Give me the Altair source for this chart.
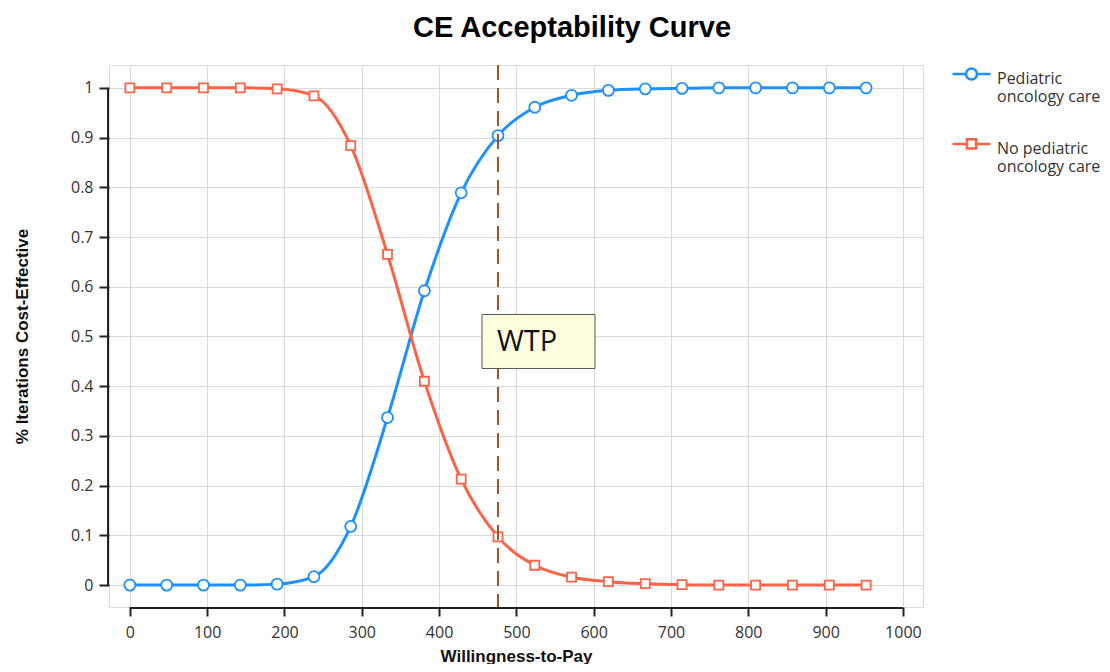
import altair as alt
import pandas as pd

# ---- data ----
wtp_x = [0, 47.6, 95.2, 142.9, 190.5, 238.1, 285.7, 333.3, 381.0, 428.6, 476.2,
         523.8, 571.4, 619.0, 666.7, 714.3, 761.9, 809.5, 857.1, 904.8, 952.4]
pediatric = [0.000, 0.000, 0.000, 0.000, 0.002, 0.017, 0.118, 0.337, 0.592, 0.789, 0.904,
             0.961, 0.985, 0.995, 0.998, 0.999, 1.000, 1.000, 1.000, 1.000, 1.000]
no_pediatric = [1.000, 1.000, 1.000, 1.000, 0.998, 0.984, 0.884, 0.665, 0.410, 0.213, 0.097,
                0.040, 0.016, 0.007, 0.003, 0.001, 0.000, 0.000, 0.000, 0.000, 0.000]
series_names = ["Pediatric oncology care", "No pediatric oncology care"]
series_colors = ["#1E90FF", "#FF6347"]
wtp_threshold = [476.2]
wtp_label = ["WTP"]
wtp_label_y = [0.49]
x_ticks = list(range(0, 1001, 100))
y_ticks = [0, 0.1, 0.2, 0.3, 0.4, 0.5, 0.6, 0.7, 0.8, 0.9, 1.0]
x_axis_span = [0, 1000]
y_axis_span = [0, 1]
x_domain = [-27, 1026]
y_domain = [-0.044, 1.046]

W, H = 814, 542
LABEL_FONT = "Open Sans"
TITLE_FONT = "Liberation Sans"

df = pd.DataFrame({
    "wtp": wtp_x * 2,
    "value": pediatric + no_pediatric,
    "series": [series_names[0]] * len(wtp_x) + [series_names[1]] * len(wtp_x),
})

x_enc = alt.X("wtp:Q", scale=alt.Scale(domain=x_domain, nice=False, zero=False),
              axis=alt.Axis(values=x_ticks, domain=False, tickSize=9, tickWidth=2,
                            tickColor="#222", labelFont=LABEL_FONT, labelFontSize=16,
                            labelColor="#333", labelPadding=8, grid=True,
                            gridColor="#dadada", title="Willingness-to-Pay",
                            titleFont=TITLE_FONT, titleFontSize=17, titleFontWeight="bold",
                            titleColor="#111", titlePadding=8, format="d"))
y_enc = alt.Y("value:Q", scale=alt.Scale(domain=y_domain, nice=False, zero=False),
              axis=alt.Axis(values=y_ticks, domain=False, tickSize=10, tickWidth=2,
                            tickColor="#222", labelFont=LABEL_FONT, labelFontSize=16,
                            labelColor="#333", labelPadding=6, grid=True,
                            gridColor="#dadada", format=".1~f",
                            title="% Iterations Cost-Effective", titleFont=TITLE_FONT,
                            titleFontSize=17, titleFontWeight="bold", titleColor="#111",
                            titlePadding=39))

base = alt.Chart(df)
layers = []
for name, col in zip(series_names, series_colors):
    sub = base.transform_filter(alt.datum.series == name)
    layers.append(sub.mark_line(color=col, strokeWidth=3, interpolate="monotone")
                  .encode(x=x_enc, y=y_enc))
for name, col, shp, sz in zip(series_names, series_colors, ["circle", "square"], [121, 81]):
    sub = base.transform_filter(alt.datum.series == name)
    layers.append(sub.mark_point(shape=shp, size=sz, filled=True, fill="white", stroke=col,
                                 strokeWidth=1.8, opacity=1)
                  .encode(x=x_enc, y=y_enc))

# axis lines spanning only the tick range
xline = alt.Chart(pd.DataFrame({"a": [x_axis_span[0]], "b": [x_axis_span[1]]})).mark_rule(
    color="#222", strokeWidth=2).encode(x=alt.X("a:Q", scale=alt.Scale(domain=x_domain, nice=False)),
                                          x2="b:Q", y=alt.value(H + 1))
yline = alt.Chart(pd.DataFrame({"a": [y_axis_span[0]], "b": [y_axis_span[1]]})).mark_rule(
    color="#222", strokeWidth=2).encode(y=alt.Y("a:Q", scale=alt.Scale(domain=y_domain, nice=False)),
                                          y2="b:Q", x=alt.value(-1))

wdf = pd.DataFrame({"wtp": wtp_threshold, "value": wtp_label_y, "label": wtp_label})
wtp_rule = alt.Chart(wdf).mark_rule(color="#A0522D", strokeWidth=2, strokeDash=[15, 8]).encode(x=x_enc)
wtp_box = alt.Chart(wdf).mark_rect(fill="#FFFFE0", stroke="#555", strokeWidth=1,
                                   xOffset=-16, x2Offset=97, yOffset=-27, y2Offset=27).encode(
    x=x_enc, x2="wtp:Q", y=y_enc, y2="value:Q")
wtp_text = alt.Chart(wdf).mark_text(align="left", baseline="middle", font=LABEL_FONT,
                                    fontSize=29, color="#111", dx=-1, dy=1).encode(
    x=x_enc, y=y_enc, text="label:N")

circle_path = "M-1,0.18L-0.29,0.18M0.29,0.18L1,0.18M-0.29,0.18A0.29,0.29,0,1,1,0.29,0.18A0.29,0.29,0,1,1,-0.29,0.18Z"
square_path = "M-1,0.18L-0.24,0.18M0.24,0.18L1,0.18M-0.24,-0.06L0.24,-0.06L0.24,0.42L-0.24,0.42Z"
leg = alt.Legend(title=None, orient="none", legendX=W + 28, legendY=-15, padding=0,
                 symbolSize=1444, symbolStrokeWidth=2.5, labelFont=LABEL_FONT,
                 labelFontSize=16, labelColor="#333", labelOffset=5, labelLimit=300,
                 rowPadding=15, labelBaseline="top",
                 labelExpr="datum.label == 'Pediatric oncology care' ? ['Pediatric', 'oncology care'] : ['No pediatric', 'oncology care']")
legend_layer = base.transform_filter("false").mark_point(filled=False, opacity=1, strokeWidth=2.5).encode(
    x=x_enc, y=y_enc,
    color=alt.Color("series:N", scale=alt.Scale(domain=series_names, range=series_colors), legend=leg),
    shape=alt.Shape("series:N", scale=alt.Scale(domain=series_names, range=[circle_path, square_path]),
                    legend=leg),
)

chart = alt.layer(*layers, xline, yline, wtp_rule, wtp_box, wtp_text, legend_layer).properties(
    width=W, height=H,
    title=alt.TitleParams("CE Acceptability Curve", font=TITLE_FONT, fontSize=29,
                          fontWeight="bold", color="#000", anchor="middle", frame="group",
                          dx=56, offset=7),
    padding={"left": 5, "top": 6, "right": 0, "bottom": 0},
).configure_view(stroke=None).configure(background="white")

chart.save("out.html", embed_options={"renderer": "svg", "actions": False})
